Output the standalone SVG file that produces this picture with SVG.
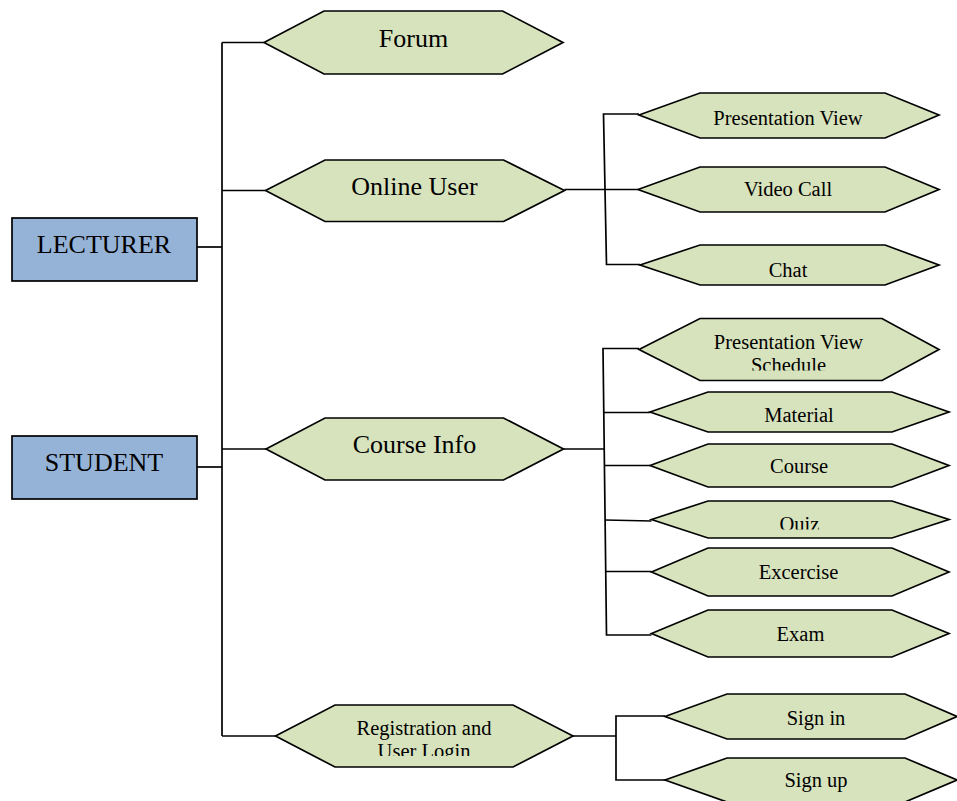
<svg xmlns="http://www.w3.org/2000/svg" width="957" height="801" viewBox="0 0 957 801">
  <style>
    .box { fill: #95B3D7; stroke: #000; stroke-width: 1.7; }
    .hex { fill: #D7E3BC; stroke: #000; stroke-width: 1.7; stroke-linejoin: miter; }
    .wire { fill: none; stroke: #000; stroke-width: 1.7; }
    text { font-family: "Liberation Serif", "Times New Roman", serif; fill: #000; text-anchor: middle; }
    .big { font-size: 26px; }
    .small { font-size: 20.5px; }
  </style>
  <defs>
    <clipPath id="clipSchedule"><rect x="640" y="300" width="300" height="70.5"/></clipPath>
    <clipPath id="clipQuiz"><rect x="650" y="495" width="300" height="34.5"/></clipPath>
    <clipPath id="clipLogin"><rect x="270" y="700" width="310" height="56"/></clipPath>
  </defs>

  <!-- connectors -->
  <g id="connectors">
    <path class="wire" d="M222,42.5 V736"/>
    <path class="wire" d="M222,42.5 H264"/>
    <path class="wire" d="M222,190.5 H265.5"/>
    <path class="wire" d="M197,247 H222"/>
    <path class="wire" d="M197,467 H222"/>
    <path class="wire" d="M222,449 H266"/>
    <path class="wire" d="M222,736 H275.5"/>

    <path class="wire" d="M564.5,189.5 H638"/>
    <path class="wire" d="M639,114 H603.5 L606.5,264.5 H640"/>

    <path class="wire" d="M563.5,449 H604"/>
    <path class="wire" d="M639,348.5 H603 L606.5,635 H651.5"/>
    <path class="wire" d="M603.5,412.5 H650"/>
    <path class="wire" d="M604.5,465.5 H650"/>
    <path class="wire" d="M605,520 L651.5,521"/>
    <path class="wire" d="M605.5,571.5 H651.5"/>

    <path class="wire" d="M573,736 H616"/>
    <path class="wire" d="M665,716 H616 V780 H665"/>
  </g>

  <!-- actors -->
  <g id="lecturer">
    <rect class="box" x="12" y="218" width="185" height="63"/>
    <text class="big" x="104" y="253">LECTURER</text>
  </g>
  <g id="student">
    <rect class="box" x="12" y="436" width="185" height="63"/>
    <text class="big" x="104" y="471">STUDENT</text>
  </g>

  <!-- first-level features -->
  <g id="forum">
    <polygon class="hex" points="264,42.5 324,11 502.5,11 563,42.5 502.5,74 324,74"/>
    <text class="big" x="413.5" y="47">Forum</text>
  </g>
  <g id="online-user">
    <polygon class="hex" points="265.5,190.5 325,160 503.5,160 564.5,190.5 503.5,221.5 325,221.5"/>
    <text class="big" x="414.5" y="195">Online User</text>
  </g>
  <g id="course-info">
    <polygon class="hex" points="266,449 325,418 503.5,418 563.5,449 503.5,480 325,480"/>
    <text class="big" x="414.5" y="453">Course Info</text>
  </g>
  <g id="registration">
    <polygon class="hex" points="275.5,736 335,705 513,705 573,736 513,767 335,767"/>
    <text class="small" x="424" y="735">Registration and</text>
    <text class="small" x="424" y="758" clip-path="url(#clipLogin)">User Login</text>
  </g>

  <!-- online user features -->
  <g id="presentation-view">
    <polygon class="hex" points="639,115 700,93 885,93 939,115 885,138 700,138"/>
    <text class="small" x="788" y="125">Presentation View</text>
  </g>
  <g id="video-call">
    <polygon class="hex" points="638,189.5 700,167 885,167 939,189.5 885,212 700,212"/>
    <text class="small" x="788" y="196">Video Call</text>
  </g>
  <g id="chat">
    <polygon class="hex" points="640,265 700,245 885,245 939,265 885,285 700,285"/>
    <text class="small" x="788" y="276.5">Chat</text>
  </g>

  <!-- course info features -->
  <g id="presentation-schedule">
    <polygon class="hex" points="639,349.5 700,318.5 882,318.5 939,349.5 882,380.5 700,380.5"/>
    <text class="small" x="788.5" y="349">Presentation View</text>
    <text class="small" x="788.5" y="372" clip-path="url(#clipSchedule)">Schedule</text>
  </g>
  <g id="material">
    <polygon class="hex" points="650,412 708,392 892,392 949,412 892,432 708,432"/>
    <text class="small" x="799" y="421.5">Material</text>
  </g>
  <g id="course">
    <polygon class="hex" points="650,465.5 708,444 892,444 949,465.5 892,487 708,487"/>
    <text class="small" x="799" y="473">Course</text>
  </g>
  <g id="quiz">
    <polygon class="hex" points="651.5,519.5 708,501 892,501 949,519.5 892,538 708,538"/>
    <text class="small" x="799.5" y="530.5" clip-path="url(#clipQuiz)">Quiz</text>
  </g>
  <g id="excercise">
    <polygon class="hex" points="651.5,572 708,548 892,548 949,572 892,596 708,596"/>
    <text class="small" x="798.5" y="579">Excercise</text>
  </g>
  <g id="exam">
    <polygon class="hex" points="651.5,633.5 708,610 892,610 949,633.5 892,657 708,657"/>
    <text class="small" x="800.5" y="641">Exam</text>
  </g>

  <!-- registration features -->
  <g id="sign-in">
    <polygon class="hex" points="665,716.5 727,694 905,694 957,716.5 905,739 727,739"/>
    <text class="small" x="816" y="725">Sign in</text>
  </g>
  <g id="sign-up">
    <polygon class="hex" points="665,780 727,758 905,758 957,780 905,802 727,802"/>
    <text class="small" x="816" y="786.5">Sign up</text>
  </g>
</svg>
